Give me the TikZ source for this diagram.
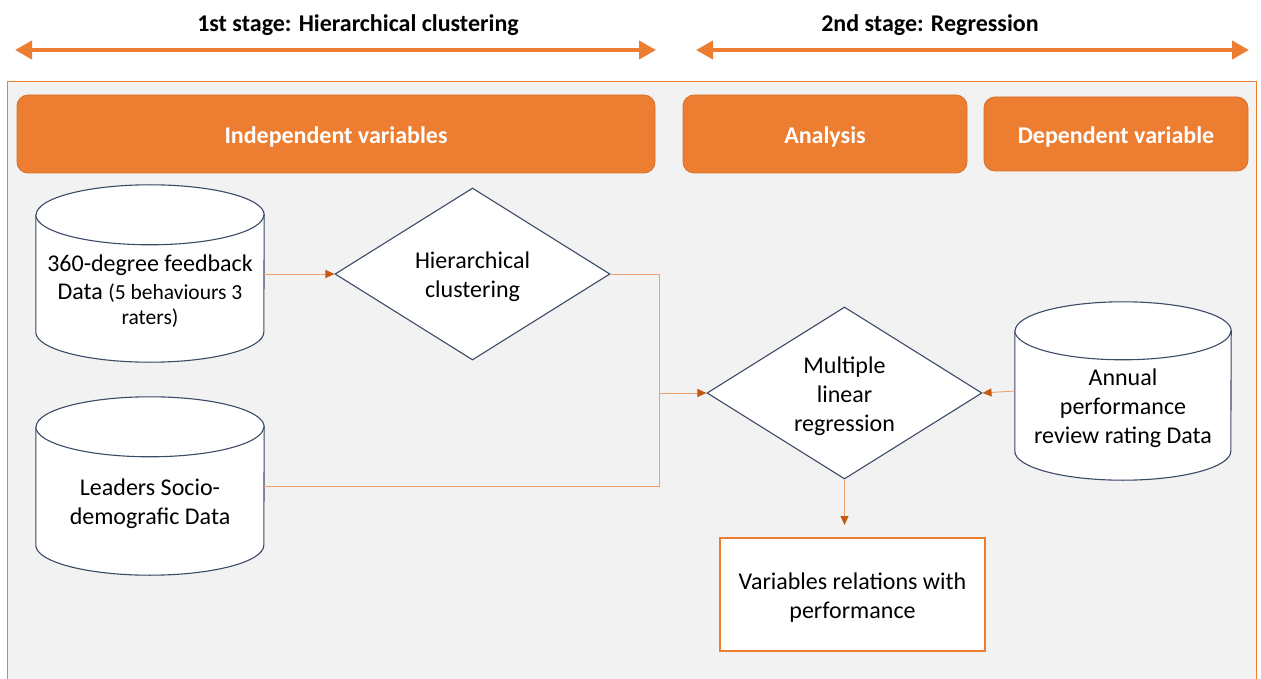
\documentclass[tikz,border=0pt]{standalone}
\usepackage{fontspec}
\setmainfont{Carlito}
\usetikzlibrary{arrows.meta,shapes.geometric,calc}
\definecolor{accent}{HTML}{ED7D31}
\definecolor{accentdark}{HTML}{C55A11}
\definecolor{wire}{HTML}{F0A070}
\definecolor{panel}{HTML}{F2F2F2}
\definecolor{outline}{HTML}{3B4A66}

% cylinder with a named invisible frame node
\newcommand{\drum}[6]{% name, centre x, centre y, width, height, end radius
  \node[frame, minimum width=#4, minimum height=#5] (#1) at (#2,#3) {};
  \pgfmathsetmacro\drumrx{#4/2}
  \filldraw[drumline] ($(#1.north west)+(0,-#6)$)
    -- ($(#1.south west)+(0,#6)$)
    arc[start angle=180,end angle=360,x radius=\drumrx,y radius=#6]
    -- ($(#1.north east)+(0,-#6)$)
    arc[start angle=0,end angle=180,x radius=\drumrx,y radius=#6] -- cycle;
  \draw[drumline] ($(#1.north west)+(0,-#6)$)
    arc[start angle=180,end angle=360,x radius=\drumrx,y radius=#6];
}

\tikzset{
  frame/.style={draw=none, inner sep=0pt, rectangle},
  drumline/.style={draw=outline, line width=1.1pt, fill=white},
  body/.style={font=\fontsize{24}{29}\selectfont, align=center, text=black},
  stagearrow/.style={draw=accent, line width=4pt, {Triangle[length=17pt,width=18pt]}-{Triangle[length=17pt,width=18pt]}},
  stagetitle/.style={font=\fontsize{24}{29}\selectfont\bfseries, text=black},
  header/.style={draw=accent!90!black, line width=0.8pt, fill=accent, rounded corners=11pt,
    inner sep=0pt, font=\fontsize{24}{29}\selectfont\bfseries, text=white},
  headtext/.style={font=\fontsize{24}{29}\selectfont\bfseries, text=white},
  choice/.style={diamond, draw=outline, line width=1.1pt, fill=white, inner sep=0pt},
  result/.style={rectangle, draw=accent, line width=1.1pt, fill=white, inner sep=0pt},
  conn/.style={draw=wire, line width=0.9pt, -{Triangle[length=9pt,width=8pt,color=accentdark]}},
  wireonly/.style={draw=wire, line width=0.9pt},
}

\begin{document}
\begin{tikzpicture}[x=1pt,y=1pt]
\useasboundingbox (0,0) rectangle (1261,-679);
\clip (0,0) rectangle (1261,-679);
\fill[white] (0,0) rectangle (1261,-679);

% stage banners
\node[stagetitle] (t1) at (358,-25) {1st stage: Hierarchical clustering};
\node[stagetitle] (t2) at (930,-25) {2nd stage: Regression};
\coordinate (a1l) at (15,-50);
\coordinate (a1r) at (656,-50);
\coordinate (a2l) at (696,-50);
\coordinate (a2r) at (1249,-50);
\draw[stagearrow] (a1l) -- (a1r);
\draw[stagearrow] (a2l) -- (a2r);

% panel
\filldraw[fill=panel, draw=accent, line width=1pt] (7,-82) rectangle (1256,-700);

% column headers
\node[header, minimum width=638, minimum height=78] (h1) at (336,-134) {};
\node[header, minimum width=284, minimum height=78] (h2) at (825,-134) {};
\node[header, minimum width=264, minimum height=74] (h3) at (1116,-134) {};
\node[headtext] (h1t) at (336,-137) {Independent variables};
\node[headtext] (h2t) at (825,-137) {Analysis};
\node[headtext] (h3t) at (1116,-137) {Dependent variable};

% data sources
\drum{c1}{150}{-273.5}{228}{177}{30}
\node[body] (c1t) at (150,-291) {360-degree feedback\\[-1pt]Data {\fontsize{21.5}{25}\selectfont(5 behaviours 3}\\[-4pt]{\fontsize{21.5}{25}\selectfont raters)}};
\drum{c2}{150}{-486}{228}{178}{30}
\node[body] (c2t) at (150,-504) {Leaders Socio-\\demografic Data};
\drum{c3}{1123}{-391}{216}{178}{29}
\node[body] (c3t) at (1123,-408) {Annual\\performance\\review rating Data};

% analysis steps
\node[choice, minimum width=275, minimum height=172] (d1) at (472.5,-274) {};
\node[body] (d1t) at (472.5,-277) {Hierarchical\\clustering};
\node[choice, minimum width=275, minimum height=172] (d2) at (844.5,-393) {};
\node[body] (d2t) at (844.5,-396) {Multiple\\linear\\regression};
\node[result, minimum width=265, minimum height=113] (r1) at (852.5,-594.5) {};
\node[body] (r1t) at (852.5,-598) {Variables relations with\\performance};

% connectors
\coordinate (jn) at (659,-393);
\coordinate (dn) at (844.5,-525);
\draw[conn] (c1.east |- d1.west) -- (d1.west);
\draw[wireonly] (d1.east) -| (jn);
\draw[wireonly] (c2.east) -| (jn);
\draw[conn] (jn) -- (d2.west);
\draw[conn] (c3.west) -- (d2.east);
\draw[conn] (d2.south) -- (dn);
\end{tikzpicture}
\end{document}
